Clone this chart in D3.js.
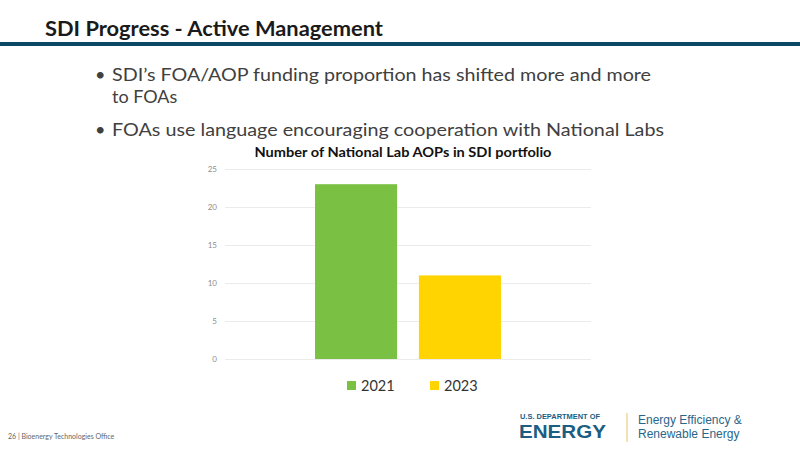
<!DOCTYPE html>
<html>
<head>
<meta charset="utf-8">
<script src="https://cdn.jsdelivr.net/npm/d3@7"></script>
<style>
  body { margin: 0; background: #fff; }
  svg { display: block; font-family: Lato, "Open Sans", sans-serif; }
</style>
</head>
<body>
<svg id="slide" width="800" height="450"></svg>
<script>
// chart data
const categories = ['AOPs'];
const seriesNames = ['2021', '2023'];
const seriesValues = [23, 11];
const seriesColors = ['#7ac143', '#ffd400'];
const yTicks = [0, 5, 10, 15, 20, 25];

const bullets = [
  [['SDI\u2019s FOA/AOP funding proportion has shifted more and more', 539], ['to FOAs', 0]],
  [['FOAs use language encouraging cooperation with National Labs', 552]]
];

const svg = d3.select('#slide');

// slide header
svg.append('text')
  .attr('x', 45).attr('y', 36)
  .attr('font-size', 21).attr('font-weight', 700)
  .attr('fill', '#1a1a1a')
  .attr('textLength', 338).attr('lengthAdjust', 'spacingAndGlyphs')
  .text('SDI Progress  - Active Management');

svg.append('rect')
  .attr('x', 0).attr('y', 42).attr('width', 800).attr('height', 4)
  .attr('fill', '#0d4766');

// bullets
let by = 81;
bullets.forEach(lines => {
  svg.append('text')
    .attr('x', 95).attr('y', by)
    .attr('font-size', 18).attr('fill', '#404040')
    .text('\u2022');
  lines.forEach(([ln, len], i) => {
    const t = svg.append('text')
      .attr('x', 112).attr('y', by + i * 22)
      .attr('font-size', 18).attr('fill', '#404040')
      .text(ln);
    if (len) t.attr('textLength', len).attr('lengthAdjust', 'spacingAndGlyphs');
  });
  by += lines.length * 22 + 11;
});

// chart
const chart = { left: 225, right: 591, top: 169, bottom: 359 };

svg.append('text')
  .attr('x', 403).attr('y', 157)
  .attr('text-anchor', 'middle')
  .attr('font-size', 13).attr('font-weight', 700)
  .attr('fill', '#111')
  .attr('textLength', 297).attr('lengthAdjust', 'spacingAndGlyphs')
  .text('Number of National Lab AOPs in SDI portfolio');

const y = d3.scaleLinear().domain([0, 25]).range([chart.bottom, chart.top]);
const x0 = d3.scaleBand().domain(categories).range([chart.left, chart.right]).paddingInner(0).paddingOuter(0.484);
const x1 = d3.scaleBand().domain(seriesNames).range([0, x0.bandwidth()]).paddingInner(0.21).paddingOuter(0);

const yAxis = d3.axisLeft(y).tickValues(yTicks).tickSize(-(chart.right - chart.left)).tickPadding(8);
svg.append('g')
  .attr('transform', `translate(${chart.left},0)`)
  .call(yAxis)
  .call(g => g.select('.domain').remove())
  .call(g => g.selectAll('.tick line').attr('stroke', '#e6e6e6').attr('stroke-width', 0.8))
  .call(g => g.selectAll('.tick text').attr('fill', '#8c8c8c').attr('font-size', 8).attr('font-family', 'Lato, sans-serif'));

const group = svg.append('g').selectAll('g')
  .data(categories)
  .join('g')
  .attr('transform', d => `translate(${x0(d)},0)`);

group.selectAll('rect')
  .data(seriesNames.map((s, i) => ({ s, v: seriesValues[i], c: seriesColors[i] })))
  .join('rect')
  .attr('x', d => x1(d.s))
  .attr('width', x1.bandwidth())
  .attr('y', d => y(d.v))
  .attr('height', d => y(0) - y(d.v))
  .attr('fill', d => d.c);

// legend
const legend = svg.append('g').selectAll('g')
  .data(seriesNames)
  .join('g')
  .attr('transform', (d, i) => `translate(${347 + i * 83},381)`);
legend.append('rect').attr('width', 9).attr('height', 9).attr('fill', (d, i) => seriesColors[i]);
legend.append('text')
  .attr('x', 14).attr('y', 9.5)
  .attr('font-size', 14.5).attr('fill', '#333')
  .text(d => d);

// footer
svg.append('text')
  .attr('x', 8).attr('y', 439)
  .attr('font-size', 7).attr('fill', '#666')
  .text('26 | Bioenergy Technologies Office');

// DOE logo
const logo = svg.append('g');
logo.append('text')
  .attr('x', 520).attr('y', 419)
  .attr('font-family', '"Liberation Sans", Arial, sans-serif')
  .attr('font-size', 6.5).attr('font-weight', 700).attr('fill', '#1b5e82')
  .attr('textLength', 80).attr('lengthAdjust', 'spacingAndGlyphs')
  .text('U.S. DEPARTMENT OF');
logo.append('text')
  .attr('x', 519).attr('y', 438)
  .attr('font-family', '"Liberation Sans", Arial, sans-serif')
  .attr('font-size', 18).attr('font-weight', 700).attr('fill', '#1b5e82')
  .attr('textLength', 87).attr('lengthAdjust', 'spacingAndGlyphs')
  .text('ENERGY');
logo.append('line')
  .attr('x1', 627).attr('x2', 627).attr('y1', 413).attr('y2', 442)
  .attr('stroke', '#e8c46a').attr('stroke-width', 1);
logo.append('text')
  .attr('x', 638).attr('y', 424)
  .attr('font-family', '"Liberation Sans", Arial, sans-serif')
  .attr('font-size', 12).attr('fill', '#2a6688')
  .text('Energy Efficiency &');
logo.append('text')
  .attr('x', 638).attr('y', 438)
  .attr('font-family', '"Liberation Sans", Arial, sans-serif')
  .attr('font-size', 12).attr('fill', '#2a6688')
  .text('Renewable Energy');
</script>
</body>
</html>
